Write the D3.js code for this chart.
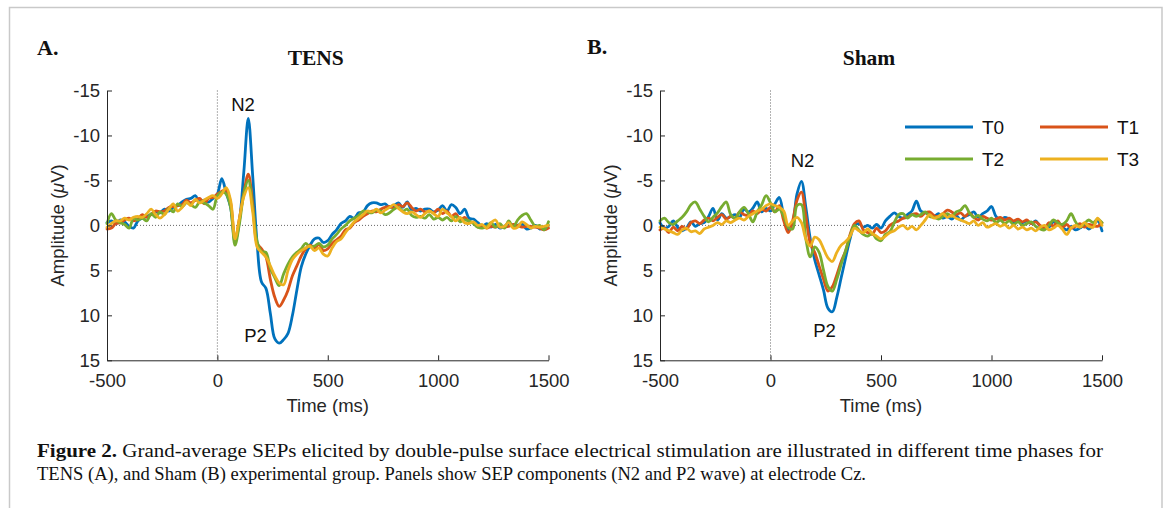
<!DOCTYPE html>
<html><head><meta charset="utf-8">
<script src="https://cdn.jsdelivr.net/npm/d3@7"></script>
<style>
html,body{margin:0;padding:0;background:#fff;}
svg{display:block;}
</style></head>
<body>
<svg id="chart" width="1168" height="508"></svg>
<script>
// ---- DATA ----
const timeMs = [
 -500,-480,-460,-440,-420,-400,-380,-360,-340,-320,
 -300,-280,-260,-240,-220,-200,-180,-160,-140,-120,
 -100,-80,-60,-40,-20,0,20,40,60,80,
 100,120,140,160,180,200,220,240,260,280,
 300,320,340,360,380,400,420,440,460,480,
 500,520,540,560,580,600,620,640,660,680,
 700,720,740,760,780,800,820,840,860,880,
 900,920,940,960,980,1000,1020,1040,1060,1080,
 1100,1120,1140,1160,1180,1200,1220,1240,1260,1280,
 1300,1320,1340,1360,1380,1400,1420,1440,1460,1480,
 1500];

const seriesNames = ["T0","T1","T2","T3"];
const seriesColors = ["#0072BD","#D95319","#77AC30","#EDB120"];

// Panel A: TENS
const tensT0 = [
 -0.3,-0.5,-0.2,-0.6,-0.4,0.1,0.3,-0.5,-0.8,-1.0,
 -1.2,-1.5,-1.4,-1.8,-1.6,-2.0,-2.2,-2.6,-2.9,-3.0,
 -3.3,-2.6,-2.8,-2.6,-3.0,-3.5,-5.2,-3.6,-2.0,1.8,
 -0.5,-6.0,-11.9,-5.5,2.0,6.3,7.0,9.8,12.6,13.1,
 12.7,12.0,10.0,7.2,4.6,3.2,2.2,1.5,1.4,1.9,
 1.7,1.0,0.5,-0.2,-0.5,-1.0,-0.8,-1.4,-1.5,-2.2,
 -2.5,-2.5,-2.3,-2.4,-2.0,-2.2,-2.5,-2.0,-2.6,-1.7,
 -1.9,-1.6,-1.8,-1.8,-1.5,-1.7,-2.2,-1.6,-2.3,-2.0,
 -1.3,-1.8,-0.8,-0.7,-0.3,0.1,-0.2,0.2,-0.1,0.3,
 0.1,-0.2,0.2,0.0,-0.2,0.4,0.3,0.0,0.4,0.2,
 0.0];
const tensT1 = [
 0.4,0.3,-0.2,-0.3,-0.6,-0.8,-0.5,-0.7,-1.2,-0.9,
 -1.2,-1.6,-1.5,-1.6,-2.0,-2.1,-2.2,-2.3,-2.8,-2.5,
 -2.8,-3.0,-2.4,-3.0,-3.1,-3.5,-3.8,-3.9,-2.5,1.6,
 -0.8,-3.6,-5.7,-2.5,2.0,2.6,3.5,6.0,8.0,9.0,
 8.3,7.2,5.6,4.5,3.4,2.6,2.2,2.5,2.1,2.8,
 2.6,2.0,1.6,1.2,0.5,0.3,-0.3,-0.6,-1.0,-1.3,
 -1.6,-1.5,-1.8,-2.0,-2.1,-1.9,-2.3,-2.1,-2.5,-2.0,
 -1.6,-1.8,-1.5,-1.6,-1.4,-1.8,-1.3,-1.6,-1.0,-1.3,
 -0.6,-0.9,-0.4,-0.3,0.2,0.0,0.3,0.1,0.2,0.0,
 0.2,0.1,-0.1,0.0,0.2,0.1,0.1,0.2,0.3,0.5,
 0.3];
const tensT2 = [
 -0.2,-1.3,-0.6,-0.3,-0.1,0.3,-0.8,-0.6,-0.8,-0.5,
 -1.3,-0.9,-1.5,-1.2,-1.9,-1.5,-2.4,-2.1,-2.5,-2.3,
 -2.0,-2.6,-2.5,-2.2,-1.8,-3.3,-3.7,-3.5,-2.0,2.2,
 -0.2,-3.5,-5.0,-2.0,1.8,2.9,3.0,4.8,5.8,6.7,
 5.4,4.3,3.5,3.0,2.6,2.0,2.4,2.3,2.0,2.4,
 2.2,1.5,1.0,0.4,0.0,-0.5,-0.8,-1.1,-1.6,-1.5,
 -1.4,-1.7,-1.6,-1.2,-1.4,-1.8,-2.0,-1.6,-1.8,-1.1,
 -0.9,-1.0,-0.8,-1.2,-0.7,-0.9,-0.6,-0.9,-0.5,-1.0,
 -0.4,-0.6,-0.5,-0.2,0.2,0.3,0.1,-0.3,0.2,-0.2,
 0.3,-0.5,0.2,-0.6,-1.1,-1.3,-0.6,0.1,0.0,0.5,
 -0.4];
const tensT3 = [
 0.2,-0.2,-0.5,-0.5,-0.8,-0.6,-0.9,-1.0,-0.9,-1.3,
 -1.8,-1.2,-0.8,-1.2,-1.8,-2.4,-1.6,-2.0,-2.6,-2.2,
 -2.9,-2.5,-2.8,-3.1,-3.3,-3.0,-3.5,-4.2,-2.8,1.5,
 -0.8,-3.2,-4.2,-1.5,2.4,3.0,3.5,4.5,5.6,6.4,
 6.6,5.0,3.8,3.2,2.8,2.5,2.3,2.8,2.5,3.2,
 3.4,2.5,1.8,1.5,0.8,0.2,-0.4,-0.8,-1.2,-1.6,
 -1.5,-1.8,-1.4,-1.7,-2.0,-2.3,-1.9,-1.5,-1.3,-1.5,
 -1.2,-0.9,-1.3,-1.6,-1.3,-1.0,-1.8,-1.4,-1.0,-0.5,
 -0.9,-0.3,-0.2,-0.4,0.0,-0.1,0.3,-0.3,-0.6,0.2,
 0.1,-0.3,0.3,0.2,-0.4,-0.1,0.3,0.1,0.2,0.1,
 0.0];

// Panel B: Sham
const shamT0 = [
 -0.3,0.3,0.1,-0.5,0.2,0.6,0.3,-0.4,0.1,-0.2,
 -0.3,-1.0,-1.9,-0.6,-1.3,-0.8,-1.0,-1.2,-0.9,-1.8,
 -1.5,-1.9,-2.6,-1.5,-1.9,-1.6,-2.4,-3.1,-1.0,0.5,
 -0.3,-3.5,-4.9,-2.0,1.5,3.8,5.5,7.2,9.2,9.6,
 8.0,5.8,3.6,1.5,0.0,-0.2,0.2,0.0,0.3,-0.1,
 0.3,-0.5,-1.0,-1.4,-1.0,-0.8,-1.2,-1.6,-2.7,-1.6,
 -1.4,-1.2,-1.0,-1.3,-0.8,-1.0,-0.7,-1.1,-0.6,-1.0,
 -1.2,-1.5,-0.9,-1.3,-1.6,-2.1,-1.0,-0.6,-0.9,-0.7,
 -0.4,-0.6,-0.3,-0.5,-0.2,-0.5,0.1,0.3,0.2,-0.4,
 -0.2,0.2,0.5,0.1,0.5,0.3,0.0,0.4,0.0,-0.5,
 0.6];
const shamT1 = [
 0.5,0.3,0.8,0.2,0.6,0.1,0.4,-0.3,-0.5,-0.2,
 -0.6,-0.8,-0.5,-0.9,-1.2,-0.7,-1.0,-0.8,-1.5,-1.2,
 -1.1,-1.6,-1.3,-1.8,-1.6,-2.0,-1.5,-2.2,-0.5,0.8,
 -0.5,-2.8,-3.7,-1.0,2.0,3.0,4.5,6.0,7.3,6.8,
 5.5,4.0,2.8,1.0,-0.2,-0.5,0.5,0.8,1.0,0.3,
 0.8,0.6,0.0,-0.3,-0.5,-0.8,-0.9,-1.2,-1.3,-1.0,
 -1.4,-1.5,-1.1,-1.0,-1.3,-1.7,-1.5,-1.2,-1.4,-1.0,
 -1.4,-0.9,-0.6,-1.0,-0.8,-0.6,-0.7,-0.9,-0.6,-0.8,
 -0.5,-0.7,-0.4,-0.6,-0.2,-0.4,0.0,0.3,-0.3,0.1,
 -0.5,0.2,-0.1,0.3,0.1,-0.2,0.2,-0.1,0.0,0.1,
 -0.3];
const shamT2 = [
 -0.5,-0.8,-0.3,-0.1,-0.5,-0.9,-1.5,-2.3,-2.6,-1.8,
 -1.0,-0.4,-0.9,-1.4,-2.1,-2.6,-1.2,-0.8,-1.5,-2.0,
 -1.3,-0.4,-1.5,-2.3,-3.3,-2.5,-1.5,-1.8,-1.0,0.2,
 0.4,-2.2,-2.3,1.5,3.5,2.4,3.0,5.0,6.8,7.3,
 6.0,4.3,2.8,1.2,0.0,0.5,1.0,1.2,0.9,1.5,
 1.7,1.0,0.7,-0.3,-1.2,-1.3,-0.8,-1.2,-1.0,-1.2,
 -1.5,-1.0,-0.9,-0.7,-1.0,-1.3,-1.0,-1.5,-1.7,-2.2,
 -1.4,-0.9,-1.1,-0.7,-0.5,-0.8,-0.3,-0.6,-0.2,-0.5,
 -0.1,-0.4,0.0,-0.2,-0.4,0.1,0.4,0.5,0.0,-0.6,
 -0.3,-0.1,-0.5,-1.3,-0.4,0.2,-0.2,-0.6,-0.3,-0.7,
 -0.3];
const shamT3 = [
 0.2,0.4,0.6,0.8,1.0,0.5,0.3,0.7,0.6,0.9,
 0.4,0.2,0.0,-0.3,-0.1,-0.5,-0.3,-0.6,-0.8,-0.6,
 -1.0,-1.3,-1.6,-1.8,-2.2,-2.4,-2.2,-2.0,-1.6,0.0,
 -0.5,-0.9,-0.3,1.5,2.3,1.3,1.6,2.6,3.6,4.0,
 3.0,2.2,1.8,1.2,0.3,0.6,0.8,0.4,0.9,1.2,
 1.5,1.2,0.8,0.6,0.2,0.0,0.4,0.1,0.5,0.0,
 -0.6,-1.2,-0.8,-1.0,-1.3,-0.9,-1.1,-0.8,-0.6,-0.4,
 -0.2,-0.5,0.0,-0.3,0.2,0.0,-0.2,0.1,-0.1,0.3,
 0.0,0.4,0.2,0.5,0.3,0.6,0.2,0.0,0.5,0.3,
 0.0,0.4,1.0,0.3,0.0,0.2,-0.3,0.1,0.2,-0.8,
 0.0];

const xTicks = [-500, 0, 500, 1000, 1500];
const yTicks = [-15, -10, -5, 0, 5, 10, 15];
const xLabel = "Time (ms)";
const captionBold = "Figure 2.";
const captionLine1 = " Grand-average SEPs elicited by double-pulse surface electrical stimulation are illustrated in different time phases for";
const captionLine2 = "TENS (A), and Sham (B) experimental group. Panels show SEP components (N2 and P2 wave) at electrode Cz.";

// ---- DRAW ----
const svg = d3.select("#chart");
const sans = "'Liberation Sans', Arial, Helvetica, sans-serif";
const serif = "'Liberation Serif', 'Times New Roman', serif";
const axisColor = "#262626";
const fs = "18.5px";

svg.append("rect").attr("x", 9.5).attr("y", 7.5).attr("width", 1152.5).attr("height", 520)
  .attr("fill", "none").attr("stroke", "#c9c9c9").attr("stroke-width", 1.5);

const panels = [
  { letter: "A.", title: "TENS", series: [tensT0, tensT1, tensT2, tensT3],
    x0: 107, x1: 548.5, letterX: 37, letterY: 55,
    n2: [243, 111], p2: [255.5, 341.5], legend: false, ylabelX: 64 },
  { letter: "B.", title: "Sham", series: [shamT0, shamT1, shamT2, shamT3],
    x0: 660, x1: 1102, letterX: 587, letterY: 53.5,
    n2: [802.5, 166.5], p2: [824.5, 336.5], legend: true, ylabelX: 617 }
];
const yTop = 90.5, yBot = 360.3;

panels.forEach(p => {
  const x = d3.scaleLinear().domain([-500, 1500]).range([p.x0, p.x1]);
  const y = d3.scaleLinear().domain([-15, 15]).range([yTop, yBot]);
  const g = svg.append("g");

  g.append("line").attr("x1", x(0)).attr("x2", x(0)).attr("y1", y(-15)).attr("y2", y(15))
    .attr("stroke", "#555").attr("stroke-width", 0.9).attr("stroke-dasharray", "1,2");
  g.append("line").attr("x1", x(-500)).attr("x2", x(1500)).attr("y1", y(0)).attr("y2", y(0))
    .attr("stroke", "#555").attr("stroke-width", 0.9).attr("stroke-dasharray", "1,2");

  const line = d3.line().x((d, i) => x(timeMs[i])).y(d => y(d)).curve(d3.curveCatmullRom.alpha(0.5));
  p.series.forEach((s, k) => {
    g.append("path").datum(s).attr("d", line).attr("fill", "none")
      .attr("stroke", seriesColors[k]).attr("stroke-width", 2.8)
      .attr("stroke-linejoin", "round").attr("stroke-linecap", "round");
  });

  const ya = g.append("g").attr("transform", `translate(${p.x0},0)`)
    .call(d3.axisLeft(y).tickValues(yTicks).tickFormat(d => String(d)).tickSizeInner(-5).tickSizeOuter(0).tickPadding(7));
  const xa = g.append("g").attr("transform", `translate(0,${yBot})`)
    .call(d3.axisBottom(x).tickValues(xTicks).tickFormat(d => String(d)).tickSizeInner(-5).tickSizeOuter(0).tickPadding(14));
  [ya, xa].forEach(a => {
    a.select(".domain").attr("stroke", axisColor).attr("stroke-width", 1);
    a.selectAll(".tick line").attr("stroke", axisColor);
    a.selectAll(".tick text").attr("fill", axisColor).style("font-family", sans).style("font-size", fs);
  });

  g.append("text").attr("x", (p.x0 + p.x1) / 2).attr("y", 412).attr("text-anchor", "middle")
    .style("font-family", sans).style("font-size", fs).attr("fill", axisColor).text(xLabel);
  const yl = g.append("text").attr("transform", `translate(${p.ylabelX},${(yTop + yBot) / 2}) rotate(-90)`)
    .attr("text-anchor", "middle").style("font-family", sans).style("font-size", fs).attr("fill", axisColor);
  yl.append("tspan").text("Amplitude (");
  yl.append("tspan").style("font-style", "italic").text("\u03BC");
  yl.append("tspan").text("V)");

  g.append("text").attr("x", (p.x0 + p.x1) / 2 - 12).attr("y", 65).attr("text-anchor", "middle")
    .style("font-family", serif).style("font-weight", "bold").style("font-size", "21.5px").attr("fill", "#111").text(p.title);
  g.append("text").attr("x", p.letterX).attr("y", p.letterY)
    .style("font-family", serif).style("font-weight", "bold").style("font-size", "22px").attr("fill", "#111").text(p.letter);

  g.append("text").attr("x", p.n2[0]).attr("y", p.n2[1]).attr("text-anchor", "middle")
    .style("font-family", sans).style("font-size", fs).attr("fill", "#111").text("N2");
  g.append("text").attr("x", p.p2[0]).attr("y", p.p2[1]).attr("text-anchor", "middle")
    .style("font-family", sans).style("font-size", fs).attr("fill", "#111").text("P2");

  if (p.legend) {
    const pos = [[905, 127], [1040, 127], [905, 159], [1040, 159]];
    seriesNames.forEach((nm, k) => {
      const [lx, ly] = pos[k];
      g.append("line").attr("x1", lx).attr("x2", lx + 68).attr("y1", ly).attr("y2", ly)
        .attr("stroke", seriesColors[k]).attr("stroke-width", 2.8);
      g.append("text").attr("x", lx + 77).attr("y", ly + 7)
        .style("font-family", sans).style("font-size", "19px").attr("fill", "#111").text(nm);
    });
  }
});

// caption
const cap1 = svg.append("text").attr("x", 37).attr("y", 457)
  .style("font-family", serif).style("font-size", "18.5px").attr("fill", "#111");
cap1.append("tspan").style("font-weight", "bold").text(captionBold);
cap1.append("tspan").text(captionLine1);
const cap2 = svg.append("text").attr("x", 37).attr("y", 480)
  .style("font-family", serif).style("font-size", "18.5px").attr("fill", "#111").text(captionLine2);
cap1.attr("textLength", 1103 - 37).attr("lengthAdjust", "spacingAndGlyphs");
cap2.attr("textLength", 866 - 37).attr("lengthAdjust", "spacingAndGlyphs");
</script>
</body></html>
